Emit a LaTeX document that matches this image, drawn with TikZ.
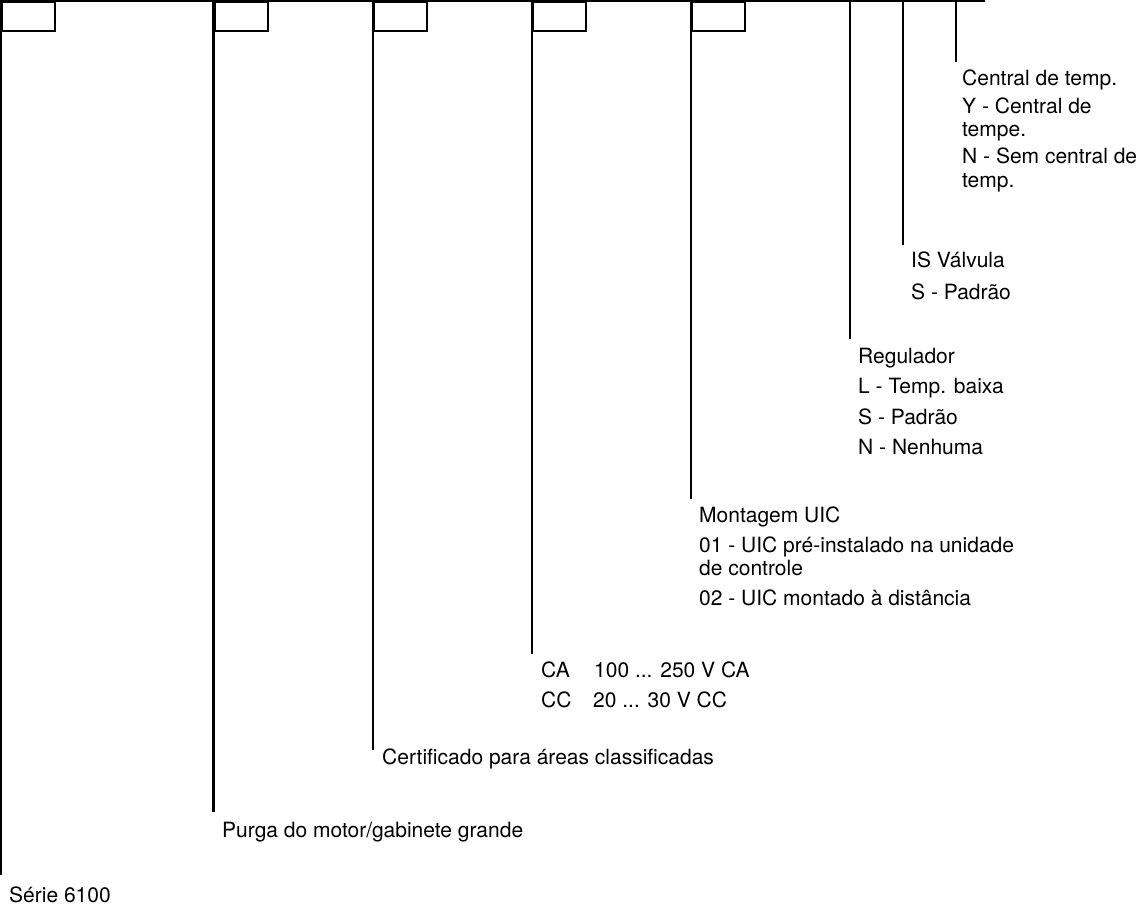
\documentclass[tikz,border=0pt]{standalone}
\usepackage{fontspec}
\setmainfont{TeX Gyre Heros}
\usetikzlibrary{positioning}

\begin{document}
\begin{tikzpicture}[
    x=1pt, y=-1pt,
    wire/.style={line width=2.2pt},
    slot/.style={rectangle, draw, line width=2.2pt, anchor=north west, inner sep=0pt, minimum width=53pt, minimum height=29pt},
    field/.style={anchor=base west, inner sep=0pt, font=\fontsize{21}{24.5}\selectfont}
]
    \useasboundingbox (0,0) rectangle (1136,905);

    % Top bar
    \coordinate (bar) at (0,1);
    \coordinate (barend) at (985,1);
    \draw[wire] (bar) -- (barend);

    % Slots
    \node[slot] (s1) at (1,1) {};
    \node[slot] (s2) at (213.5,1) {};
    \node[slot] (s3) at (373,1) {};
    \node[slot] (s4) at (532,1) {};
    \node[slot] (s5) at (691,1) {};
    \coordinate (s6) at (850,1);
    \coordinate (s7) at (903,1);
    \coordinate (s8) at (956,1);

    % Fields
    \node[field] (serie) at (9,902) {Série 6100};
    \node[field] (purga) at (222,837) {Purga do motor/gabinete grande};
    \node[field] (cert) at (382,764) {Certificado para áreas classificadas};

    \node[field] (volt-ca) at (541,677) {\makebox[53pt][l]{CA}100 ... 250 V CA};
    \node[field] (volt-cc) at (541,707) {\makebox[52pt][l]{CC}20 ... 30 V CC};

    \node[field] (uic) at (699,522) {Montagem UIC};
    \node[field] (uic-01) at (699,552) {01 - UIC pré-instalado na unidade};
    \node[field] (uic-01b) at (699,575.5) {de controle};
    \node[field] (uic-02) at (699,605) {02 - UIC montado à distância};

    \node[field] (reg) at (858,363) {Regulador};
    \node[field] (reg-l) at (858,393.5) {L - Temp. baixa};
    \node[field] (reg-s) at (858,424) {S - Padrão};
    \node[field] (reg-n) at (858,454.5) {N - Nenhuma};

    \node[field] (valve) at (911,267.5) {IS Válvula};
    \node[field] (valve-s) at (911,299) {S - Padrão};

    \node[field] (temp) at (962,85) {Central de temp.};
    \node[field] (temp-y) at (962,113) {Y - Central de};
    \node[field] (temp-yb) at (962,136) {tempe.};
    \node[field] (temp-n) at (962,163) {N - Sem central de};
    \node[field] (temp-nb) at (962,187) {temp.};

    % Leaders
    \coordinate (e1) at (1,875);
    \coordinate (e2) at (213.5,812);
    \coordinate (e3) at (373,750);
    \coordinate (e4) at (532,654);
    \coordinate (e5) at (691,499);
    \coordinate (e6) at (850,339);
    \coordinate (e7) at (903,245);
    \coordinate (e8) at (956,62);
    \draw[wire] (s1.north west) -- (e1);
    \draw[wire] (s2.north west) -- (e2);
    \draw[wire] (s3.north west) -- (e3);
    \draw[wire] (s4.north west) -- (e4);
    \draw[wire] (s5.north west) -- (e5);
    \draw[wire] (s6) -- (e6);
    \draw[wire] (s7) -- (e7);
    \draw[wire] (s8) -- (e8);
\end{tikzpicture}
\end{document}
